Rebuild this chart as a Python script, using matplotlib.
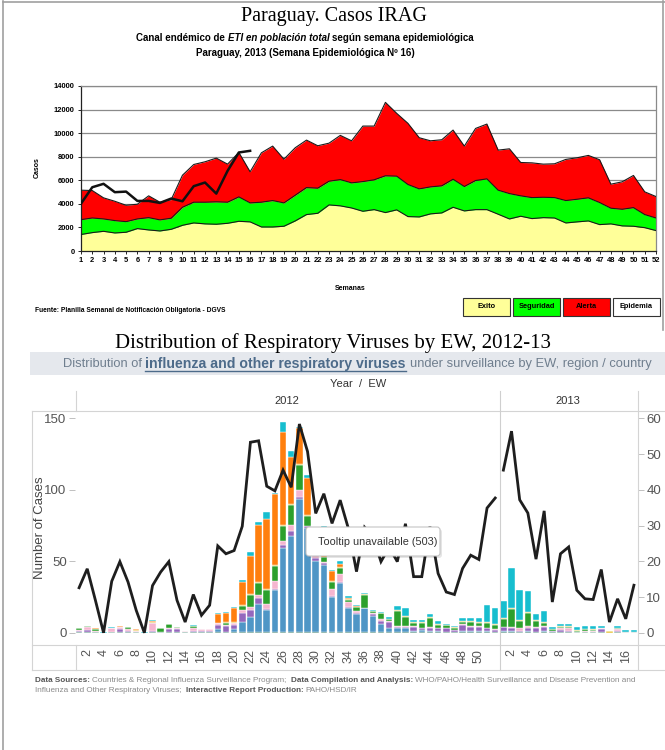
import numpy as np
import matplotlib.pyplot as plt
from matplotlib.lines import Line2D
from matplotlib.patches import Rectangle, FancyBboxPatch
from matplotlib.transforms import IdentityTransform

W, H = 665, 750

# ---- Paraguay endemic channel (ETI), cases per epidemiological week ----
semanas = list(range(1, 53))
exito = [1400, 1560, 1670, 1530, 1590, 1900, 1785, 1700, 1840, 2180,
         2380, 2300, 2270, 2350, 2520, 2470, 2040, 2040, 2100, 2550,
         3090, 3200, 3910, 3830, 3650, 3370, 3510, 3260, 3490, 2920,
         2890, 3150, 3230, 3710, 3400, 3510, 3510, 3120, 2720, 2950,
         2750, 2830, 2800, 2380, 2470, 2550, 2240, 2300, 2130, 2100,
         1980, 1730]
seguridad = [2660, 2800, 2720, 2580, 2490, 2720, 2830, 2640, 2780, 3710,
             4140, 4140, 4170, 4140, 4590, 4080, 4140, 4280, 4080, 4730,
             5380, 5330, 5920, 6060, 5780, 5890, 6040, 6380, 6350, 5640,
             5270, 5440, 5530, 6090, 5470, 5980, 6120, 5160, 4870, 4680,
             4530, 4560, 4530, 4280, 4390, 4510, 4110, 3630, 3540, 3680,
             3090, 2800]
alerta = [5160, 5130, 4510, 4220, 3880, 3970, 4680, 4140, 4360, 6430,
          7340, 7570, 7880, 7370, 8360, 6720, 8330, 8900, 7790, 8760,
          9410, 8930, 9150, 9810, 9350, 10600, 10600, 12610, 11680, 10830,
          9610, 9350, 9440, 10260, 8900, 10400, 10770, 8560, 8670, 7510,
          7480, 7370, 7400, 7770, 7910, 8110, 7740, 5670, 5870, 6410,
          5020, 4620]
casos_2013 = [4020, 5410, 5700, 4990, 5040, 4250, 4250, 4080, 4450, 4220,
              5500, 5810, 4870, 6800, 8360, 8500]
legend_labels = ['Exito', 'Seguridad', 'Alerta', 'Epidemia']

# ---- respiratory viruses by EW (stacked, bottom to top) ----
teal_2012 = [.6, .6, .5, 0, .5, .5, .5, .3, 0, .5,
             .5, .6, .5, .3, .5, .5, .5, .6, .6, .6,
             .6, .6, .6, .6, .6, .6, .6, .6, .6, .6,
             .6, .6, .6, .6, .6, .6, .6, .6, .6, .6,
             .6, .6, .6, .6, .6, .6, .6, .6, .6, .6,
             .6, .6]
blue_2012 = [0, 0, 0, 0, 0, 0, 0, 0, 0, 0,
             0, 0, 0, 0, 0, 0, 0, 2, 0, 2,
             7, 10.4, 19.7, 15.1, 29.1, 58.7, 66.9, 92.9, 73, 49.6,
             46.6, 24.4, 33.9, 16.4, 12.4, 16.4, 11.4, 5.4, 2.9, 2.4,
             2.4, .4, 1.4, .9, .4, 0, 0, .4, .4, .4,
             .4, 0]
purple_2012 = [.5, 1, 0, 0, .3, 2, .5, 0, 0, 1,
               0, 2, 2, 0, 1, 1, 1, 3, 4, 3,
               6, 5, 4.2, .9, .9, 2.4, 3.5, 1.6, 1.2, 2,
               1.5, 1, .7, 1, 1, .5, 1, 2.5, 4, 1,
               1, 3, 1, 2, 2, 2.5, 1, 4.5, 3, 3,
               2, 1.5]
pink_2012 = [.8, 2.3, .5, 0, 2.6, 1.2, 1.5, 1, 0, 5.5,
             0, 1, .5, 1, 1.5, .8, .8, 1, 1, 1.5,
             2.2, 2, 1.7, 3.7, 5.6, 2.6, 4.7, 5.1, 0, 3,
             1, 4.5, 6, 3.5, 1.5, 0, 1, 1, .5, .5,
             .5, .5, .5, .5, .5, .5, .5, .5, .5, .5,
             .5, .5]
green_2012 = [1.2, .5, 1.5, 0, 0, 0, 1.2, 0, 0, 0,
              3, 2.2, 1, 0, 1.5, 0, 0, 0, 1.5, 0,
              3, 8.6, 8.6, 9.4, 10.5, 10.5, 13.6, 17.1, 7, 5,
              3, 5, 4, 1.5, 2.5, 9, 1, 4, 1.5, 11,
              6.5, 2.5, 3.5, 6, 2, 1.5, 1.5, 1.5, 3, 2.5,
              3.5, 3]
yellow_2012 = [.3, 0, .4, 0, 0, 0, 0, .3, 0, .3,
               0, 0, 0, 0, 0, 0, 0, .5, .5, .4,
               .5, .4, .5, .7, .7, .4, .7, .7, .5, .3,
               .5, .5, .5, .3, .2, .3, 0, 0, 0, .4,
               .5, .3, .3, .8, .5, .3, .3, .5, .5, .5,
               .5, .5]
orange_2012 = [0, 0, .4, 0, 0, .7, 0, .7, 0, 1,
               0, 0, 0, 0, 0, 0, 0, 6.2, 6.2, 10,
               16.4, 27, 39.9, 49, 49.6, 65, 32.7, 25, 26, 2,
               20, 7.5, 2.5, 1, .5, 0, .5, .3, .3, 0,
               0, 0, 0, 0, 0, 0, 0, 0, 0, 0,
               0, 0]
cyan_2012 = [.2, .4, 0, .4, .3, .5, .3, 0, .5, .9,
             0, .5, 0, .1, .6, 0, 0, .5, .5, .5,
             1, 2.3, 2.1, 4.9, .9, 7, 4.6, .7, 1.7, .5,
             1.8, .5, 1.8, 1.7, .5, 1, .6, .7, 1, 2.5,
             6, 1.5, 1.7, 2.5, 2, .4, .7, 2.3, 2.5, 3,
             12, 11.4]

teal_2013 = [.5, .5, .5, .5, .5, .5, .3, .3, .3, .3, .3, .3, .3, 0, .3, .3, .3]
blue_2013 = [.5, .5, 0, .5, 0, .5, 0, .3, 0, 0, 0, 0, 0, 0, 0, 0, 0]
purple_2013 = [3, 2.5, .5, 2.3, 3, 3, 1, 1.2, 1, 0, 0, 0, 2, 0, 1, 0, 0]
pink_2013 = [0, .5, 2.3, 1.2, .5, .5, 0, 1.2, 1.9, 0, 1, 1, 1, 0, 1.2, 0, 0]
green_2013 = [5.8, 12.8, 4.7, 9.3, 4.2, 2.3, 1, 1.2, 1, 1, 1, .8, 0, 0, .6, 0, 0]
yellow_2013 = [.7, .7, .7, .7, .5, .7, .3, .3, .3, .3, .3, .3, .3, .9, .3, 0, .3]
orange_2013 = [0, 0, 0, 0, 0, 0, 0, 0, 0, 0, 0, 0, 0, 0, 0, 0, 0]
cyan_2013 = [11.4, 28, 21.3, 15, 4.6, 7.9, 1.1, 1.9, 1.6, 2.1, 2.3, 2.5, 1.3, 0, 1.5, 1.8, 1.5]

# percent positive line (right axis)
line_2012 = [12.6, 17.9, 9.1, 0, 14.4, 19.9, 14.2, 6.3, 0, 13.2,
             17.0, 19.9, 9.1, 3.0, 10.7, 4.9, 7.7, 24.3, 22.1, 23.0,
             29.8, 53.3, 53.7, 41.0, 39.7, 45.5, 40.7, 58.4, 50.7, 33.4,
             38.9, 30.6, 37.1, 29.2, 17.1, 29.5, 27.0, 19.9, 24.0, 19.9,
             30.5, 15.7, 15.7, 29.7, 16.6, 11.4, 10.7, 18.0, 21.7, 20.5,
             34.9, 37.7]
line_2013 = [45.5, 56.4, 37.2, 33.5, 20.6, 34.1, 8.6, 22.1, 24.0, 11.9,
             9.5, 9.3, 17.7, 3.0, 9.5, 3.9, 13.3]

SANS = ['Liberation Sans', 'DejaVu Sans']
SERIF = ['Liberation Serif', 'DejaVu Serif']


def fx(x):
    return x / W


def fy(y):
    return 1 - y / H


fig = plt.figure(figsize=(W / 100, H / 100), dpi=100)
fig.patch.set_facecolor('white')
renderer = fig.canvas.get_renderer()


def text_width(s, **kw):
    t = fig.text(0, 0, s, **kw)
    w = t.get_window_extent(renderer).width
    t.remove()
    return w


def rich_line(x, y, pieces, ha='center', **kw):
    # pieces are (text, props); one space between consecutive pieces
    gap = text_width('a a', **kw) - text_width('aa', **kw)
    clean = []
    for s, p in pieces:
        p = dict(p)
        under = p.pop('underline', False)
        extra = p.pop('lead', 0)
        props = {**kw, **p}
        clean.append((s, props, under, extra, text_width(s, **props)))
    total = sum(c[4] + c[3] for c in clean) + gap * (len(clean) - 1)
    x0 = x - total / 2 if ha == 'center' else x
    for s, props, under, extra, w in clean:
        x0 += extra
        fig.text(fx(x0), fy(y), s, ha='left', va='center', **props)
        if under:
            fig.add_artist(Line2D([fx(x0), fx(x0 + w)], [fy(y + 7)] * 2,
                                  color=props.get('color', 'k'), lw=1.0))
        x0 += w + gap


def hline(y, x0, x1, color='#d4d4d4', lw=0.8):
    fig.add_artist(Line2D([fx(x0), fx(x1)], [fy(y), fy(y)], color=color, lw=lw))


def vline(x, y0, y1, color='#d4d4d4', lw=0.8):
    fig.add_artist(Line2D([fx(x), fx(x)], [fy(y0), fy(y1)], color=color, lw=lw))


# page frame
vline(3, 1, 750, color='#a0a0a0', lw=1.2)
hline(1.5, 3, 665, color='#a0a0a0', lw=1.2)
vline(663, 1, 330, color='#a0a0a0', lw=1.2)

# ================= top chart =================
fig.text(fx(334), fy(17), 'Paraguay. Casos IRAG', ha='center', va='center',
         family=SERIF, fontsize=14.5)
rich_line(305, 38, [('Canal endémico de', {}),
                    ('ETI en población total', {'style': 'italic'}),
                    ('según semana epidemiológica', {})],
          family=SANS, fontsize=7, weight='bold', color='black')
fig.text(fx(305), fy(53), 'Paraguay, 2013 (Semana Epidemiológica Nº 16)',
         ha='center', va='center', family=SANS, fontsize=7, weight='bold')

ax1 = fig.add_axes([fx(81), fy(251), (656 - 81) / W, (251 - 86) / H])
ax1.fill_between(semanas, 0, exito, color='#ffff99', lw=0, zorder=2)
ax1.fill_between(semanas, exito, seguridad, color='#00ff00', lw=0, zorder=2)
ax1.fill_between(semanas, seguridad, alerta, color='#ff0000', lw=0, zorder=2)
for serie in (exito, seguridad, alerta):
    ax1.plot(semanas, serie, color='#1a1a1a', lw=0.8, zorder=3)
ax1.plot(semanas[:len(casos_2013)], casos_2013, color='#111111', lw=1.8, zorder=4)
ax1.set_xlim(1, 52)
ax1.set_ylim(0, 14000)
ax1.set_yticks(range(0, 14001, 2000))
ax1.set_xticks(semanas)
ax1.yaxis.grid(True, color='#8a8a8a', lw=0.9)
ax1.set_axisbelow(True)
ax1.tick_params(axis='both', labelsize=5.4, length=2.5, width=0.6, pad=2)
for lab in ax1.get_xticklabels() + ax1.get_yticklabels():
    lab.set_family(SANS)
    lab.set_weight('bold')
for side in ('left', 'bottom'):
    ax1.spines[side].set_color('#222222')
    ax1.spines[side].set_linewidth(0.9)
for side in ('top', 'right'):
    ax1.spines[side].set_color('#8a8a8a')
    ax1.spines[side].set_linewidth(0.9)

fig.text(fx(37), fy(168), 'Casos', rotation=90, ha='center', va='center',
         family=SANS, fontsize=5, weight='bold')
fig.text(fx(350), fy(289), 'Semanas', ha='center', va='center',
         family=SANS, fontsize=5, weight='bold')
fig.text(fx(35), fy(310), 'Fuente: Planilla Semanal de Notificación Obligatoria - DGVS',
         ha='left', va='center', family=SANS, fontsize=4.8, weight='bold')

legend_colors = ['#ffff99', '#00ff00', '#ff0000', '#ffffff']
for i, (lab, col) in enumerate(zip(legend_labels, legend_colors)):
    x0 = 463 + i * 50
    fig.add_artist(Rectangle((fx(x0), fy(316)), 47 / W, 18 / H,
                             transform=fig.transFigure, facecolor=col,
                             edgecolor='#333333', lw=0.8))
    fig.text(fx(x0 + 23.5), fy(307), lab, ha='center', va='center',
             family=SANS, fontsize=5.3, weight='bold')

# ================= bottom chart =================
fig.text(fx(333), fy(343), 'Distribution of Respiratory Viruses by EW, 2012-13',
         ha='center', va='center', family=SERIF, fontsize=15)

fig.add_artist(Rectangle((fx(30), fy(375)), (665 - 30) / W, 23 / H,
                         transform=fig.transFigure, facecolor='#e5e8ed', lw=0))
rich_line(357, 364, [('Distribution of', {}),
                     ('influenza and other respiratory viruses',
                      {'weight': 'bold', 'color': '#4d6b8a', 'fontsize': 10.2, 'underline': True}),
                     ('under surveillance by EW, region / country', {})],
          family=SANS, fontsize=9.3, color='#6f7e8e')

fig.text(fx(358), fy(384), 'Year  /  EW', ha='center', va='center',
         family=SANS, fontsize=8, color='#333333')
fig.text(fx(287), fy(401), '2012', ha='center', va='center',
         family=SANS, fontsize=8, color='#333333')
fig.text(fx(568), fy(401), '2013', ha='center', va='center',
         family=SANS, fontsize=8, color='#333333')

# pane grid lines
hline(411, 32, 665)
hline(644.5, 32, 665)
hline(670, 32, 665)
vline(32, 411, 670)
vline(75.5, 391, 411)
vline(75.5, 644.5, 670)
vline(499.5, 391, 670, color='#cfcfcf')
vline(638, 391, 670)

ax2 = fig.add_axes([fx(75), fy(644.5), (638 - 75) / W, (644.5 - 411) / H])
x12 = np.arange(52)
x13 = np.arange(52, 69)
xs = np.concatenate([x12, x13])
layers = [
    (teal_2012 + teal_2013, '#1d6b5a'),
    (blue_2012 + blue_2013, '#4f96c6'),
    (purple_2012 + purple_2013, '#9467bd'),
    (pink_2012 + pink_2013, '#f5b5d0'),
    (green_2012 + green_2013, '#2ca02c'),
    (yellow_2012 + yellow_2013, '#e8c33a'),
    (orange_2012 + orange_2013, '#ff7f0e'),
    (cyan_2012 + cyan_2013, '#17becf'),
]
base = np.zeros(len(xs))
for vals, col in layers:
    vals = np.array(vals, dtype=float)
    ax2.bar(xs, vals, 0.8, bottom=base, color=col, edgecolor='white', lw=0.3)
    base += vals

lo, hi = -8.2, 155.1
ax2.set_xlim(-0.5, 68.5)
ax2.set_ylim(lo, hi)
ax2.set_yticks([0, 50, 100, 150])
tick_pos = [w - 1 for w in range(2, 51, 2)] + [52 + w - 1 for w in range(2, 17, 2)]
tick_lab = [str(w) for w in range(2, 51, 2)] + [str(w) for w in range(2, 17, 2)]
ax2.set_xticks(tick_pos)
ax2.set_xticklabels(tick_lab, rotation=90, family=SANS, fontsize=9, color='#555555')
ax2.tick_params(axis='x', length=0, pad=3)
ax2.tick_params(axis='y', length=4, width=0.6, color='#b5b5b5', labelsize=9.5,
                labelcolor='#555555', pad=2)
for lab in ax2.get_yticklabels():
    lab.set_family(SANS)
for s in ax2.spines.values():
    s.set_visible(False)
ax2.patch.set_visible(False)

axr = ax2.twinx()
axr.plot(x12, line_2012, color='#1e1e1e', lw=2.0, solid_joinstyle='miter')
axr.plot(x13, line_2013, color='#1e1e1e', lw=2.0, solid_joinstyle='miter')
axr.set_ylim(lo / 2.5, hi / 2.5)
axr.set_yticks(range(0, 61, 10))
axr.tick_params(axis='y', length=4, width=0.6, color='#b5b5b5', labelsize=9.5,
                labelcolor='#555555', pad=2)
for lab in axr.get_yticklabels():
    lab.set_family(SANS)
for side, s in axr.spines.items():
    s.set_visible(False)
axr.patch.set_visible(False)

fig.text(fx(40), fy(528), 'Number of Cases', rotation=90, ha='center', va='center',
         family=SANS, fontsize=9.5, color='#444444')

# tooltip box
shadow = FancyBboxPatch((308, H - 558), 134, 29, boxstyle='round,pad=0,rounding_size=3',
                        transform=IdentityTransform(), facecolor='#000000', alpha=0.10, lw=0)
tip = FancyBboxPatch((306, H - 556), 134, 29, boxstyle='round,pad=0,rounding_size=3',
                     transform=IdentityTransform(), facecolor='white', edgecolor='#c4c4c4', lw=0.8)
fig.add_artist(shadow)
fig.add_artist(tip)
fig.text(fx(318), fy(542), 'Tooltip unavailable (503)', ha='left', va='center',
         family=SANS, fontsize=7.8, color='#333333')

# footer
rich_line(35, 680, [('Data Sources:', {'weight': 'bold', 'color': '#555555'}),
                    ('Countries & Regional Influenza Surveillance Program;', {}),
                    ('Data Compilation and Analysis:', {'weight': 'bold', 'color': '#555555', 'lead': 2}),
                    ('WHO/PAHO/Health Surveillance and Disease Prevention and', {})],
          ha='left', family=SANS, fontsize=5.9, color='#8a8a8a')
rich_line(35, 691, [('Influenza and Other Respiratory Viruses;', {}),
                    ('Interactive Report Production:', {'weight': 'bold', 'color': '#555555', 'lead': 2}),
                    ('PAHO/HSD/IR', {})],
          ha='left', family=SANS, fontsize=5.9, color='#8a8a8a')

fig.savefig('out.png', dpi=100, facecolor='white')
